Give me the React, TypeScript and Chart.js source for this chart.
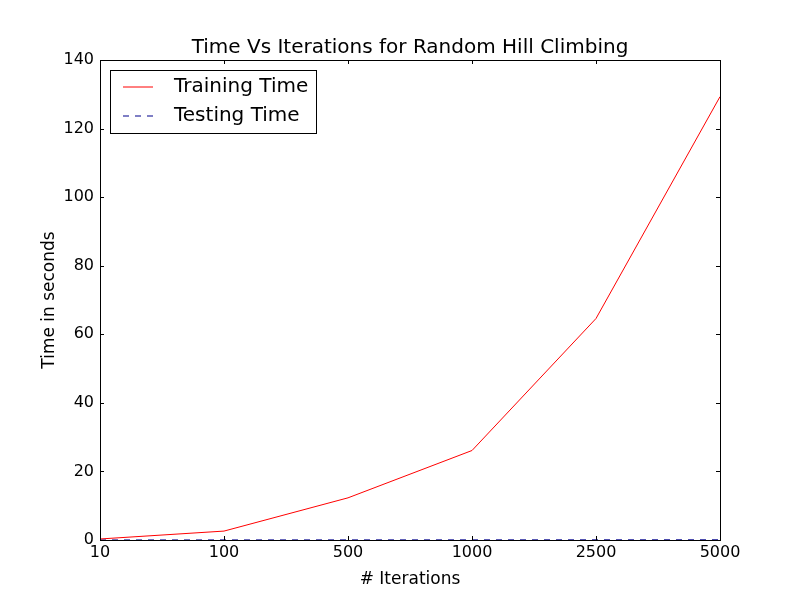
import React, { useEffect, useRef } from "react";
import { Chart, registerables } from "chart.js";
Chart.register(...registerables);

const categories = ["10", "100", "500", "1000", "2500", "5000"];
const trainingTime = [0.3, 2.6, 12.3, 26.1, 64.6, 129.3];
const testingTime = [0.01, 0.02, 0.03, 0.04, 0.05, 0.06];
const yTicks = [0, 20, 40, 60, 80, 100, 120, 140];

const FONT = "DejaVu Sans";

const framePlugin = {
  id: "frame",
  afterDraw(chart: any) {
    const { ctx, chartArea: a, scales } = chart;
    ctx.save();
    ctx.strokeStyle = "#000";
    ctx.lineWidth = 1;
    ctx.strokeRect(a.left + 0.5, a.top + 0.5, a.right - a.left, a.bottom - a.top);
    ctx.beginPath();
    categories.forEach((_, i) => {
      const x = Math.round(scales.x.getPixelForValue(i)) + 0.5;
      ctx.moveTo(x, a.bottom); ctx.lineTo(x, a.bottom - 4);
      ctx.moveTo(x, a.top); ctx.lineTo(x, a.top + 4);
    });
    yTicks.forEach((v) => {
      const y = Math.round(scales.y.getPixelForValue(v)) + 0.5;
      ctx.moveTo(a.left, y); ctx.lineTo(a.left + 4, y);
      ctx.moveTo(a.right, y); ctx.lineTo(a.right - 4, y);
    });
    ctx.stroke();
    ctx.fillStyle = "#000";
    // tick labels
    ctx.font = `16px ${FONT}`;
    ctx.textAlign = "center";
    ctx.textBaseline = "top";
    categories.forEach((c, i) => {
      ctx.fillText(c, scales.x.getPixelForValue(i), a.bottom + 5);
    });
    ctx.textAlign = "right";
    ctx.textBaseline = "middle";
    yTicks.forEach((v) => {
      ctx.fillText(String(v), a.left - 6, scales.y.getPixelForValue(v));
    });
    ctx.textAlign = "center";
    ctx.textBaseline = "alphabetic";
    ctx.font = `20px ${FONT}`;
    ctx.fillText("Time Vs Iterations for Random Hill Climbing", (a.left + a.right) / 2, 53);
    ctx.font = `17px ${FONT}`;
    ctx.fillText("# Iterations", (a.left + a.right) / 2, 584);
    ctx.save();
    ctx.translate(54, (a.top + a.bottom) / 2);
    ctx.rotate(-Math.PI / 2);
    ctx.fillText("Time in seconds", 0, 0);
    ctx.restore();
    // legend
    ctx.fillStyle = "#fff";
    ctx.fillRect(110, 70, 206, 63);
    ctx.strokeRect(110.5, 70.5, 206, 63);
    ctx.beginPath();
    ctx.strokeStyle = "red";
    ctx.moveTo(123, 87); ctx.lineTo(153, 87);
    ctx.stroke();
    ctx.beginPath();
    ctx.strokeStyle = "#00008b";
    ctx.setLineDash([6, 6]);
    ctx.moveTo(123, 116); ctx.lineTo(153, 116);
    ctx.stroke();
    ctx.setLineDash([]);
    ctx.fillStyle = "#000";
    ctx.textAlign = "left";
    ctx.textBaseline = "middle";
    ctx.font = `20px ${FONT}`;
    ctx.fillText("Training Time", 174, 87);
    ctx.fillText("Testing Time", 174, 116);
    ctx.restore();
  },
};

export default function App() {
  const ref = useRef<HTMLCanvasElement>(null);
  useEffect(() => {
    document.body.style.margin = "0";
    const chart = new Chart(ref.current!, {
      type: "line",
      data: {
        labels: categories,
        datasets: [
          { label: "Training Time", data: trainingTime, borderColor: "red", borderWidth: 1, pointRadius: 0, tension: 0 },
          { label: "Testing Time", data: testingTime, borderColor: "#00008b", borderWidth: 1, borderDash: [6, 6], pointRadius: 0, tension: 0 },
        ],
      },
      options: {
        responsive: false,
        animation: false,
        layout: { padding: { left: 100, right: 80, top: 60, bottom: 60 } },
        plugins: { legend: { display: false }, title: { display: false }, tooltip: { enabled: false } },
        scales: {
          x: {
            type: "category",
            offset: false,
            grid: { display: false },
            border: { display: false },
            ticks: { display: false },
            afterFit: (s: any) => { s.height = 0; },
          },
          y: {
            min: 0,
            max: 140,
            grid: { display: false },
            border: { display: false },
            ticks: { display: false, stepSize: 20 },
            afterFit: (s: any) => { s.width = 0; },
          },
        },
      },
      plugins: [framePlugin],
    });
    return () => chart.destroy();
  }, []);
  return <canvas ref={ref} width={800} height={600} style={{ display: "block" }} />;
}
